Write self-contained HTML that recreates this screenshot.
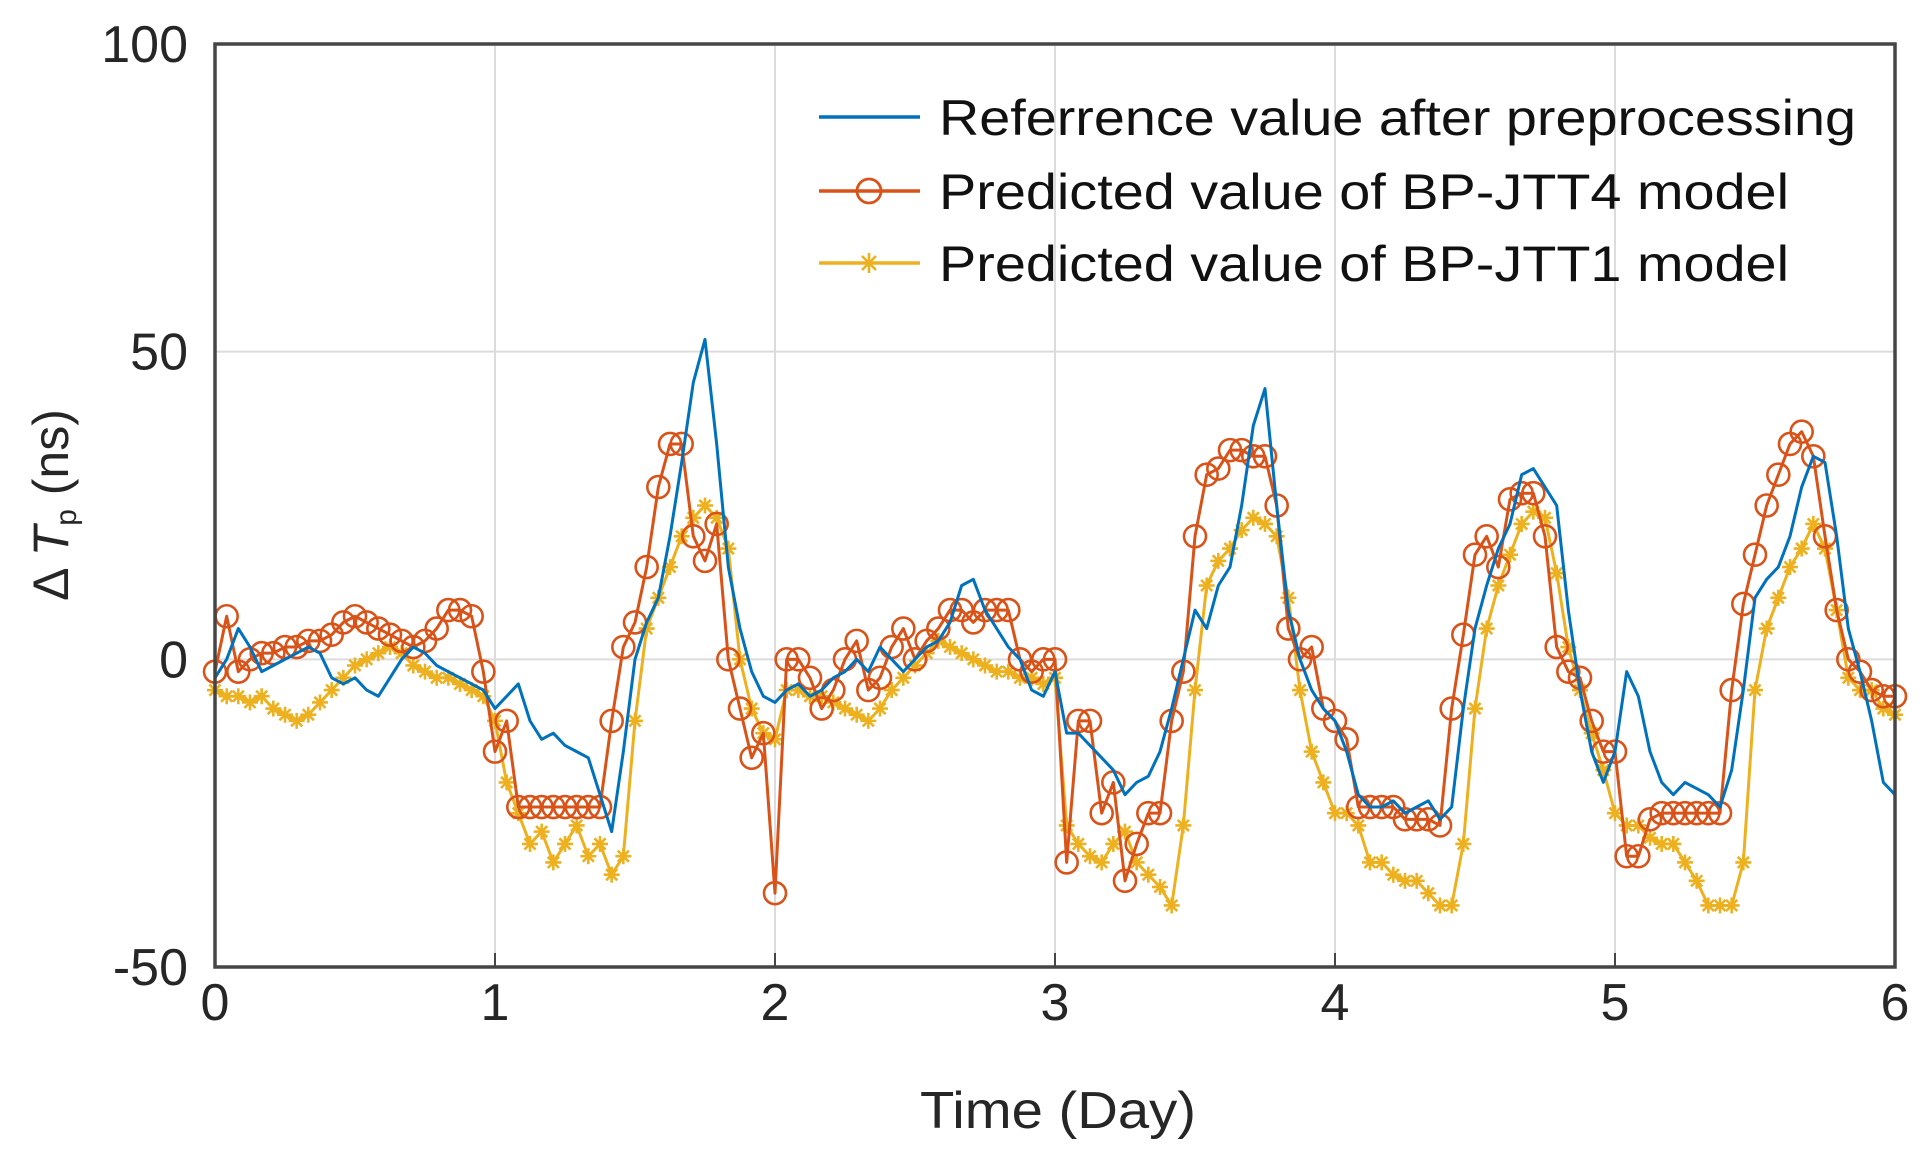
<!DOCTYPE html>
<html><head><meta charset="utf-8">
<style>html,body{margin:0;padding:0;background:#fff;width:1929px;height:1157px;overflow:hidden}
svg{display:block;font-family:"Liberation Sans",sans-serif}</style></head>
<body>
<svg id="chart" width="1929" height="1157" viewBox="0 0 1929 1157" xmlns="http://www.w3.org/2000/svg">
<g id="grid"></g>
<g id="series"></g>
<rect x="215" y="44" width="1680" height="923" fill="none" stroke="#454545" stroke-width="3.5"/>
<g id="ticks" font-size="52" fill="#262626"></g>
<text x="1058" y="1128" font-size="52" text-anchor="middle" fill="#262626" textLength="276" lengthAdjust="spacingAndGlyphs">Time (Day)</text>
<text transform="translate(68,505) rotate(-90)" font-size="50" text-anchor="middle" fill="#262626">Δ <tspan font-style="italic">T</tspan><tspan font-size="30" dy="8">p</tspan><tspan dy="-8"> (ns)</tspan></text>
<g id="legend" font-size="50" fill="#111">
 <g>
  <line x1="819" y1="117" x2="920" y2="117" stroke="#0072BD" stroke-width="3.5"/>
  <text x="939" y="135" textLength="917" lengthAdjust="spacingAndGlyphs">Referrence value after preprocessing</text>
 </g>
 <g>
  <line x1="819" y1="191" x2="920" y2="191" stroke="#D95319" stroke-width="3.5"/>
  <circle cx="869" cy="191" r="12" fill="none" stroke="#D95319" stroke-width="2.8"/>
  <text x="939" y="209" textLength="850" lengthAdjust="spacingAndGlyphs">Predicted value of BP-JTT4 model</text>
 </g>
 <g>
  <line x1="819" y1="263" x2="920" y2="263" stroke="#EDB120" stroke-width="3.5"/>
  <g id="legstar"></g>
  <text x="939" y="281" textLength="850" lengthAdjust="spacingAndGlyphs">Predicted value of BP-JTT1 model</text>
 </g>
</g>
</svg>
<script>
const xTicks=[0,1,2,3,4,5,6];
const yTicks=[-50,0,50,100];
const stepsPerDay=24;
const refValues=[-3,0,5,2,-2,-1,0,1,2,1,-3,-4,-3,-5,-6,-3,0,2,1,-1,-2,-3,-4,-5,
-8,-6,-4,-10,-13,-12,-14,-15,-16,-22,-28,-15,0,6,10,20,32,45,52,35,15,5,-2,-6,
-7,-5,-4,-6,-5,-3,-2,0,-2,2,0,-2,0,2,3,6,12,13,8,5,2,0,-5,-6,
-2,-12,-12,-14,-16,-18,-22,-20,-19,-15,-8,0,8,5,12,15,25,38,44,25,8,0,-5,-8,
-10,-15,-22,-24,-24,-23,-25,-24,-23,-26,-24,-8,5,12,18,22,30,31,28,25,8,-5,-15,-20,
-15,-2,-6,-15,-20,-22,-20,-21,-22,-24,-18,-5,10,13,15,20,28,33,32,20,5,-2,-10,-20,-22];
const jtt4Values=[-2,7,-2,0,1,1,2,2,3,3,4,6,7,6,5,4,3,2,3,5,8,8,7,-2,
-15,-10,-24,-24,-24,-24,-24,-24,-24,-24,-10,2,6,15,28,35,35,20,16,22,0,-8,-16,-12,
-38,0,0,-3,-8,-5,0,3,-5,-3,2,5,0,3,5,8,8,6,8,8,8,0,-2,0,
0,-33,-10,-10,-25,-20,-36,-30,-25,-25,-10,-2,20,30,31,34,34,33,33,25,5,0,2,-8,
-10,-13,-24,-24,-24,-24,-26,-26,-26,-27,-8,4,17,20,15,26,27,27,20,2,-2,-3,-10,-15,
-15,-32,-32,-26,-25,-25,-25,-25,-25,-25,-5,9,17,25,30,35,37,33,20,8,0,-2,-5,-6,-6];
const jtt1Values=[-5,-6,-6,-7,-6,-8,-9,-10,-9,-7,-5,-3,-1,0,1,2,1,-1,-2,-3,-3,-4,-5,-6,
-10,-20,-25,-30,-28,-33,-30,-27,-32,-30,-35,-32,-10,5,10,15,20,23,25,23,18,0,-8,-12,
-13,-5,-5,-6,-6,-7,-8,-9,-10,-8,-5,-3,-1,1,3,2,1,0,-1,-2,-2,-3,-3,-4,
-3,-27,-30,-32,-33,-30,-28,-33,-35,-37,-40,-27,-5,12,16,18,21,23,22,20,10,-5,-15,-20,
-25,-25,-27,-33,-33,-35,-36,-36,-38,-40,-40,-30,-8,5,12,17,22,24,23,14,2,-5,-12,-18,
-25,-27,-27,-29,-30,-30,-33,-36,-40,-40,-40,-33,-5,5,10,15,18,22,18,8,-3,-5,-5,-8,-9];

const NS='http://www.w3.org/2000/svg';
const L=215,R=1895,T=44,B=967;
const xS=d=>L+(d-0)/6*(R-L);
const yS=v=>B-(v+50)/150*(B-T);
function mk(tag,attrs,parent){const e=document.createElementNS(NS,tag);for(const k in attrs)e.setAttribute(k,attrs[k]);parent.appendChild(e);return e;}
const grid=document.getElementById('grid'),ticks=document.getElementById('ticks'),ser=document.getElementById('series');
xTicks.forEach(t=>{
 const g=mk('line',{x1:xS(t),x2:xS(t),y1:T,y2:B,stroke:'#dcdcdc','stroke-width':2},grid);
 
 
 const tk=mk('line',{x1:xS(t),x2:xS(t),y1:B,y2:B-14,stroke:'#454545','stroke-width':2},grid);
 
 
 const tx=mk('text',{x:xS(t),y:1020,'text-anchor':'middle'},ticks);tx.textContent=t;
 
 
});
yTicks.forEach(v=>{
 const g=mk('line',{x1:L,x2:R,y1:yS(v),y2:yS(v),stroke:'#dcdcdc','stroke-width':2},grid);
 
 
 const tx=mk('text',{x:188,y:yS(v)+18,'text-anchor':'end'},ticks);tx.textContent=v;
 
 
});
function pts(arr){return arr.map((v,i)=>[xS(i/stepsPerDay),yS(v)]);}
function line(arr,color,name){
 const p=mk('polyline',{points:pts(arr).map(q=>q.join(',')).join(' '),fill:'none',stroke:color,'stroke-width':3,'stroke-linejoin':'round'},ser);
 
 
}
function star(x,y,parent,s){
 const g=mk('g',{stroke:'#EDB120','stroke-width':2.6},parent);
 
 
 mk('line',{x1:x-s,y1:y,x2:x+s,y2:y},g);mk('line',{x1:x,y1:y-s,x2:x,y2:y+s},g);
 mk('line',{x1:x-s*.7,y1:y-s*.7,x2:x+s*.7,y2:y+s*.7},g);mk('line',{x1:x-s*.7,y1:y+s*.7,x2:x+s*.7,y2:y-s*.7},g);
}
line(jtt1Values,'#EDB120','bp-jtt1-line');
pts(jtt1Values).forEach(q=>star(q[0],q[1],ser,8));
line(jtt4Values,'#D95319','bp-jtt4-line');
pts(jtt4Values).forEach(q=>{
 const c=mk('circle',{cx:q[0],cy:q[1],r:11,fill:'none',stroke:'#D95319','stroke-width':2.6},ser);
 
 
});
line(refValues,'#0072BD','reference-line');
star(869,263,document.getElementById('legstar'),10);
</script>
</body></html>
